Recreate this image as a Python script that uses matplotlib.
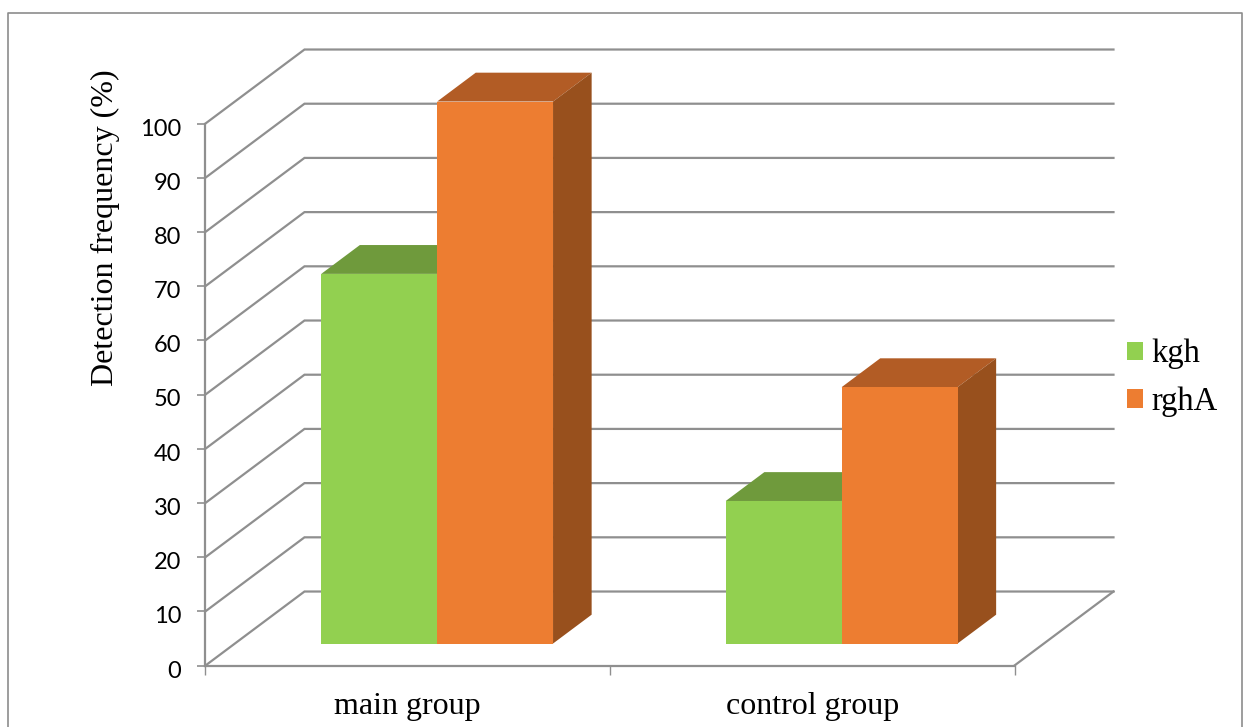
import matplotlib
matplotlib.use("Agg")
import matplotlib.pyplot as plt
from matplotlib.lines import Line2D
from matplotlib.transforms import ScaledTranslation

groups = ["main group", "control group"]
kgh = [68.2, 26.3]
rgha = [100, 47.3]
y_ticks = [0, 10, 20, 30, 40, 50, 60, 70, 80, 90, 100]

W, H = 1245, 727
GRID = "#8f8f8f"
SERIF = "Liberation Serif"

# depth of the floor, in axis units
depth_x = 0.2447
depth_y = 13.65
# bars stand part way into the floor and are not as deep as it
bar_start = 0.297
bar_depth = 0.39
bar_w = 0.2865

fig = plt.figure(figsize=(W / 100, H / 100), dpi=100, facecolor="white")
ax = fig.add_axes([205.5 / W, 1 - 665.5 / H, 809 / W, 542 / H])
ax.set_xlim(0, 2)
ax.set_ylim(0, 100)
ax.patch.set_visible(False)

# walls and floor
for t in y_ticks:
    ax.plot([0, depth_x, 2 + depth_x], [t, t + depth_y, t + depth_y],
            color=GRID, lw=1.6, clip_on=False, zorder=1, solid_joinstyle="miter")
ax.plot([2, 2 + depth_x], [0, depth_y], color=GRID, lw=1.6, clip_on=False, zorder=1)


def draw_bar(x, value, front, top, side):
    x0 = x + bar_start * depth_x
    y0 = bar_start * depth_y
    dx = bar_depth * depth_x
    dy = bar_depth * depth_y
    y1 = y0 + value
    ax.fill([x0, x0 + dx, x0 + dx + bar_w, x0 + bar_w],
            [y1, y1 + dy, y1 + dy, y1], color=top, lw=0, clip_on=False, zorder=3)
    ax.fill([x0 + bar_w, x0 + bar_w + dx, x0 + bar_w + dx, x0 + bar_w],
            [y0, y0 + dy, y1 + dy, y1], color=side, lw=0, clip_on=False, zorder=3)
    return ax.bar(x0, value, bar_w, bottom=y0, align="edge", color=front, lw=0,
                  clip_on=False, zorder=3)


handles = []
for i in range(len(groups)):
    centre = i + 0.5
    b1 = draw_bar(centre - bar_w, kgh[i], "#92d050", "#6f9a3c", "#5f8532")
    b2 = draw_bar(centre, rgha[i], "#ed7d31", "#b25c25", "#98501d")
    handles = [b1, b2]

for name in ["top", "right"]:
    ax.spines[name].set_visible(False)
for name in ["left", "bottom"]:
    ax.spines[name].set_color(GRID)
    ax.spines[name].set_linewidth(1.6)

ax.set_yticks(y_ticks)
ax.tick_params(axis="y", length=5.5, width=1.2, color=GRID, pad=12, labelsize=17)
# tick numbers sit a little below their ticks
nudge = ScaledTranslation(0, -3.5 / 100, fig.dpi_scale_trans)
for lab in ax.get_yticklabels():
    lab.set_family("Lato")
    lab.set_transform(lab.get_transform() + nudge)

ax.set_xticks([0, 1, 2])
ax.set_xticklabels([])
ax.tick_params(axis="x", length=6.5, width=1.0, color=GRID)
ax.set_xticks([0.5, 1.5], minor=True)
ax.set_xticklabels(groups, minor=True, family=SERIF, fontsize=23)
ax.tick_params(axis="x", which="minor", length=0, pad=19)

fig.text(105 / W, 1 - 227.5 / H, "Detection frequency (%)", rotation=90, ha="center",
         va="center", family=SERIF, fontsize=23)

fig.legend(handles, ["kgh", "rghA"], loc="upper left",
           bbox_to_anchor=(1117.5 / W, 1 - 329 / H), frameon=False,
           prop={"family": SERIF, "size": 23.5}, handlelength=0.49, handleheight=0.49,
           handletextpad=0.25, labelspacing=0.53, borderpad=0.3, borderaxespad=0)

# outer frame, open at the bottom edge
fig.add_artist(Line2D([8 / W, 8 / W, 1242 / W, 1242 / W],
                      [0, 1 - 12.5 / H, 1 - 12.5 / H, 0], color="#8c8c8c", lw=1.2))

fig.savefig("out.png", dpi=100, facecolor="white")
